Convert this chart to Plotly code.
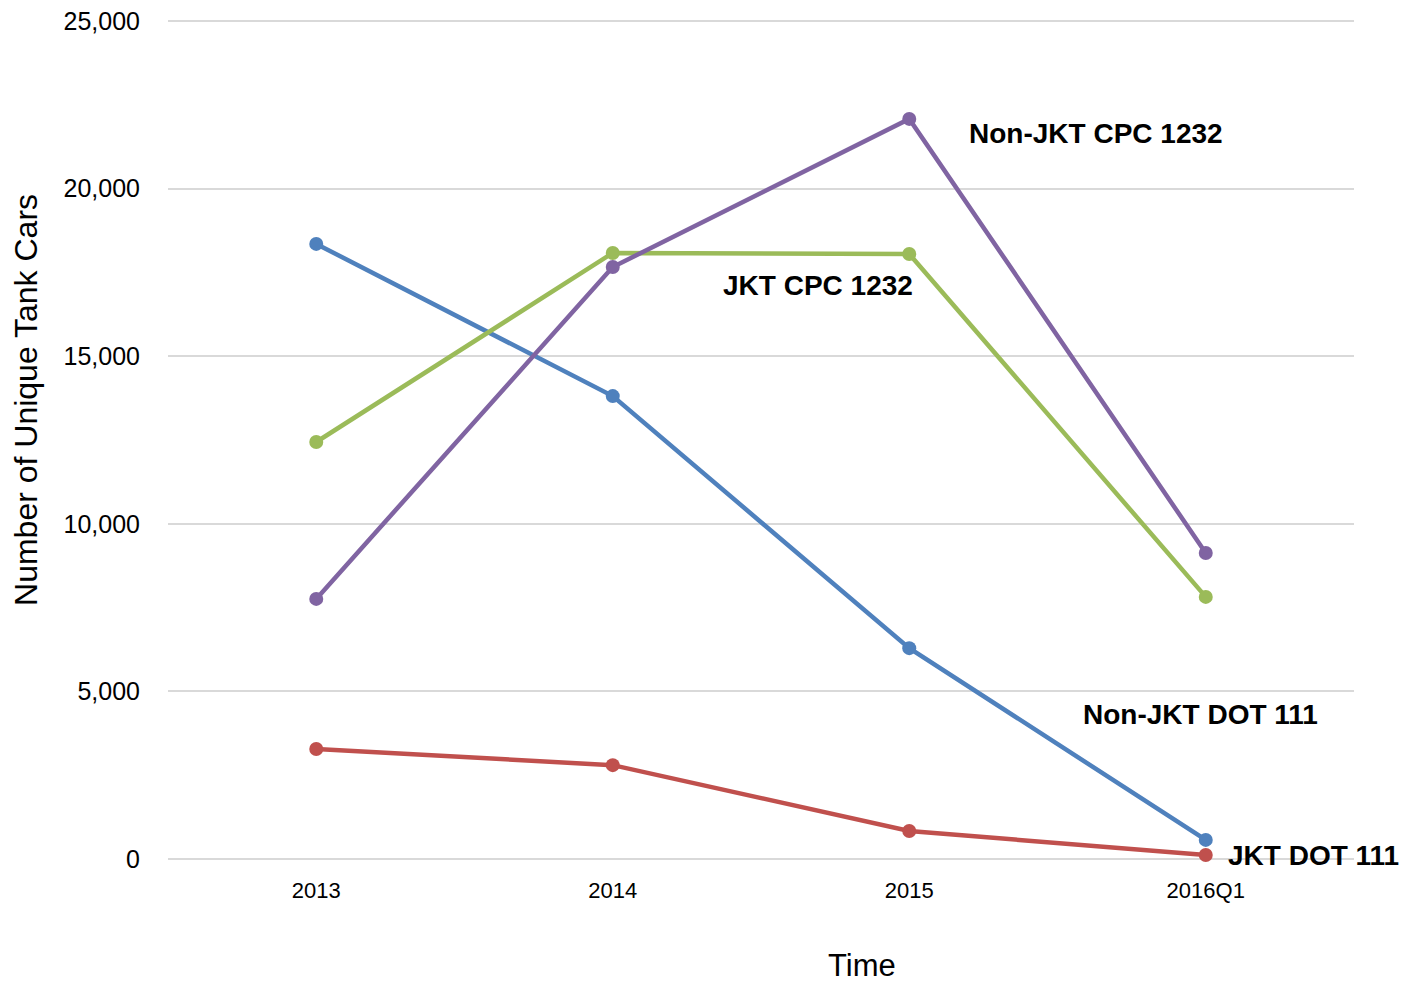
import plotly.graph_objects as go

categories = ["2013", "2014", "2015", "2016Q1"]
non_jkt_dot111 = [18350, 13810, 6290, 570]
jkt_dot111 = [3280, 2800, 835, 120]
jkt_cpc1232 = [12440, 18080, 18050, 7820]
non_jkt_cpc1232 = [7760, 17660, 22080, 9130]
y_ticks = [0, 5000, 10000, 15000, 20000, 25000]

series = [
    ("Non-JKT DOT 111", non_jkt_dot111, "#4F81BD"),
    ("JKT DOT 111", jkt_dot111, "#C0504D"),
    ("JKT CPC 1232", jkt_cpc1232, "#9BBB59"),
    ("Non-JKT CPC 1232", non_jkt_cpc1232, "#8064A2"),
]

fig = go.Figure()
for name, vals, color in series:
    fig.add_trace(go.Scatter(
        x=categories, y=vals, name=name, mode="lines+markers",
        line=dict(color=color, width=4.5),
        marker=dict(color=color, size=14),
        cliponaxis=False,
    ))

labels = [
    ("Non-JKT CPC 1232", 2.196, 21630),
    ("JKT CPC 1232", 1.365, 17120),
    ("Non-JKT DOT 111", 2.578, 4300),
    ("JKT DOT 111", 3.068, 90),
]
for text, x, y in labels:
    fig.add_annotation(x=x, y=y, xref="x", yref="y", text="<b>%s</b>" % text,
                       showarrow=False, xanchor="left", yanchor="middle",
                       font=dict(family="Liberation Sans, Arial", size=28, color="#000"))

# axis titles
fig.add_annotation(x=-0.1197, y=0.5465, xref="paper", yref="paper",
                   text="Number of Unique Tank Cars", textangle=-90, showarrow=False,
                   xanchor="center", yanchor="middle",
                   font=dict(family="Liberation Sans, Arial", size=32, color="#000"))
fig.add_annotation(x=0.5852, y=-0.127, xref="paper", yref="paper",
                   text="Time", showarrow=False, xanchor="center", yanchor="middle",
                   font=dict(family="Liberation Sans, Arial", size=31, color="#000"))

fig.update_layout(
    width=1410, height=986,
    margin=dict(l=168, r=56, t=19, b=127),
    paper_bgcolor="white", plot_bgcolor="white",
    showlegend=False,
    font=dict(family="Liberation Sans, Arial", color="#000"),
    xaxis=dict(
        type="category", range=[-0.5, 3.5],
        showgrid=False, showline=False, zeroline=False,
        ticks="outside", ticklen=12, tickcolor="rgba(0,0,0,0)",
        tickfont=dict(size=22),
        automargin=False,
    ),
    yaxis=dict(
        range=[0, 25060], tickvals=y_ticks, tickformat=",d",
        showgrid=True, gridcolor="#D9D9D9", gridwidth=2,
        zeroline=True, zerolinecolor="#D9D9D9", zerolinewidth=2,
        showline=False,
        ticks="outside", ticklen=22, tickcolor="rgba(0,0,0,0)",
        tickfont=dict(size=25),
        automargin=False,
    ),
)

fig.write_html("out.html", config={"displayModeBar": False},
               post_script="document.body.style.margin='0';")
